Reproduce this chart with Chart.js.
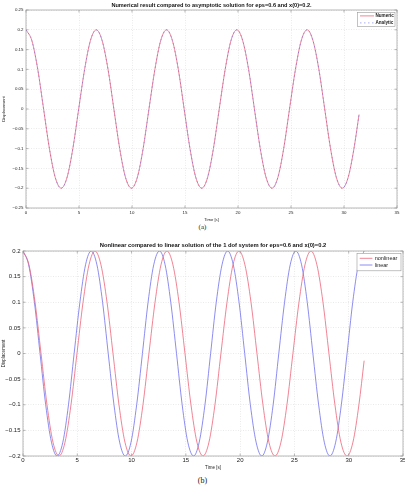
<!DOCTYPE html>
<html>
<head>
<meta charset="utf-8">
<title>Displacement</title>
<script src="https://cdn.jsdelivr.net/npm/chart.js@4.4.1/dist/chart.umd.min.js"></script>
<style>
  html, body { margin: 0; padding: 0; background: #fff; }
  body { width: 405px; height: 486px; position: relative; overflow: hidden; }
  canvas { position: absolute; left: 0; }
  #chart-a { top: 0; }
  #chart-b { top: 238px; }
  .caption { position: absolute; left: 0; width: 405px; text-align: center; line-height: 1;
             font-family: "Liberation Serif", "Times New Roman", serif; color: #222; }
</style>
</head>
<body>
<canvas id="chart-a" width="405" height="223"></canvas>
<div class="caption" style="top:224px;font-size:7px">(a)</div>
<canvas id="chart-b" width="405" height="233"></canvas>
<div class="caption" style="top:477px;font-size:8px">(b)</div>
<script>
// time samples [s] of the nonlinear response (same curve in both plots)
const timeNonlinear = [
    0, 0.55, 1.11, 1.66, 2.21, 2.76, 3.32, 3.87, 4.42, 4.97, 5.53, 6.08,
    6.63, 7.18, 7.74, 8.29, 8.84, 9.39, 9.95, 10.50, 11.05, 11.60, 12.16, 12.71,
    13.26, 13.81, 14.37, 14.92, 15.47, 16.02, 16.58, 17.13, 17.68, 18.23, 18.79, 19.34,
    19.89, 20.44, 21.00, 21.55, 22.10, 22.65, 23.21, 23.76, 24.31, 24.86, 25.42, 25.97,
    26.52, 27.07, 27.63, 28.18, 28.73, 29.28, 29.84, 30.39, 30.94, 31.42
];
const numeric = [
    0.2, 0.173, 0.1, 0, -0.1, -0.173, -0.2, -0.173, -0.1, 0, 0.1, 0.173,
    0.2, 0.173, 0.1, 0, -0.1, -0.173, -0.2, -0.173, -0.1, 0, 0.1, 0.173,
    0.2, 0.173, 0.1, 0, -0.1, -0.173, -0.2, -0.173, -0.1, 0, 0.1, 0.173,
    0.2, 0.173, 0.1, 0, -0.1, -0.173, -0.2, -0.173, -0.1, 0, 0.1, 0.173,
    0.2, 0.173, 0.1, 0, -0.1, -0.173, -0.2, -0.173, -0.1, -0.014
];
const analytic = [
    0.2, 0.173, 0.1, 0, -0.1, -0.173, -0.2, -0.173, -0.1, 0, 0.1, 0.173,
    0.2, 0.173, 0.1, 0, -0.1, -0.173, -0.2, -0.173, -0.1, 0, 0.1, 0.173,
    0.2, 0.173, 0.1, 0, -0.1, -0.173, -0.2, -0.173, -0.1, 0, 0.1, 0.173,
    0.2, 0.173, 0.1, 0, -0.1, -0.173, -0.2, -0.173, -0.1, 0, 0.1, 0.173,
    0.2, 0.173, 0.1, 0, -0.1, -0.173, -0.2, -0.173, -0.1, -0.014
];
const nonlinear = [
    0.2, 0.173, 0.1, 0, -0.1, -0.173, -0.2, -0.173, -0.1, 0, 0.1, 0.173,
    0.2, 0.173, 0.1, 0, -0.1, -0.173, -0.2, -0.173, -0.1, 0, 0.1, 0.173,
    0.2, 0.173, 0.1, 0, -0.1, -0.173, -0.2, -0.173, -0.1, 0, 0.1, 0.173,
    0.2, 0.173, 0.1, 0, -0.1, -0.173, -0.2, -0.173, -0.1, 0, 0.1, 0.173,
    0.2, 0.173, 0.1, 0, -0.1, -0.173, -0.2, -0.173, -0.1, -0.014
];
// linear response, period 2*pi
const timeLinear = [
    0, 0.52, 1.05, 1.57, 2.09, 2.62, 3.14, 3.67, 4.19, 4.71, 5.24, 5.76,
    6.28, 6.81, 7.33, 7.85, 8.38, 8.90, 9.42, 9.95, 10.47, 11.00, 11.52, 12.04,
    12.57, 13.09, 13.61, 14.14, 14.66, 15.18, 15.71, 16.23, 16.76, 17.28, 17.80, 18.33,
    18.85, 19.37, 19.90, 20.42, 20.94, 21.47, 21.99, 22.51, 23.04, 23.56, 24.09, 24.61,
    25.13, 25.66, 26.18, 26.70, 27.23, 27.75, 28.27, 28.80, 29.32, 29.85, 30.37, 30.89,
    31.42
];
const linear = [
    0.2, 0.173, 0.1, 0, -0.1, -0.173, -0.2, -0.173, -0.1, 0, 0.1, 0.173,
    0.2, 0.173, 0.1, 0, -0.1, -0.173, -0.2, -0.173, -0.1, 0, 0.1, 0.173,
    0.2, 0.173, 0.1, 0, -0.1, -0.173, -0.2, -0.173, -0.1, 0, 0.1, 0.173,
    0.2, 0.173, 0.1, 0, -0.1, -0.173, -0.2, -0.173, -0.1, 0, 0.1, 0.173,
    0.2, 0.173, 0.1, 0, -0.1, -0.173, -0.2, -0.173, -0.1, 0, 0.1, 0.173,
    0.2
];
const timeTicks = [0, 35, 5];          // min, max, step
const yTicksA = [-0.25, 0.25, 0.05];
const yTicksB = [-0.2, 0.2, 0.05];

const RED = 'rgb(236, 100, 122)';
const BLUE = 'rgb(112, 112, 236)';
const FONT = "'Liberation Sans', Arial, sans-serif";

function points(xs, ys) {
    return xs.map((x, i) => ({ x: x, y: ys[i] }));
}

function tickLabel(v) {
    const r = Math.round(v * 100) / 100;
    return r < 0 ? '\u2212' + Math.abs(r) : String(r);
}

// matlab style axes box with inward ticks
const boxPlugin = {
    id: 'matlabBox',
    afterDatasetsDraw(chart, args, opts) {
        const { ctx, chartArea: a, scales } = chart;
        const len = opts.tickLength;
        ctx.save();
        ctx.strokeStyle = opts.color;
        ctx.lineWidth = opts.width;
        ctx.strokeRect(a.left, a.top, a.right - a.left, a.bottom - a.top);
        ctx.beginPath();
        scales.x.ticks.forEach(t => {
            const px = scales.x.getPixelForValue(t.value);
            ctx.moveTo(px, a.bottom); ctx.lineTo(px, a.bottom - len);
            ctx.moveTo(px, a.top); ctx.lineTo(px, a.top + len);
        });
        scales.y.ticks.forEach(t => {
            const py = scales.y.getPixelForValue(t.value);
            ctx.moveTo(a.left, py); ctx.lineTo(a.left + len, py);
            ctx.moveTo(a.right, py); ctx.lineTo(a.right - len, py);
        });
        ctx.stroke();
        ctx.restore();
    }
};

// boxed legend inside the top right corner
const legendPlugin = {
    id: 'boxLegend',
    afterDraw(chart, args, opts) {
        const { ctx, chartArea: a } = chart;
        const left = a.right - opts.right - opts.width;
        const top = a.top + opts.top;
        ctx.save();
        ctx.fillStyle = '#fff';
        ctx.fillRect(left, top, opts.width, opts.height);
        ctx.strokeStyle = '#999';
        ctx.lineWidth = 0.6;
        ctx.strokeRect(left, top, opts.width, opts.height);
        ctx.font = opts.font;
        ctx.textBaseline = 'middle';
        chart.data.datasets.forEach((ds, i) => {
            const y = top + opts.firstRow + i * opts.rowGap;
            ctx.strokeStyle = ds.borderColor;
            ctx.lineWidth = ds.borderWidth;
            ctx.setLineDash(ds.borderDash || []);
            ctx.beginPath();
            ctx.moveTo(left + opts.lineStart, y);
            ctx.lineTo(left + opts.lineEnd, y);
            ctx.stroke();
            ctx.setLineDash([]);
            ctx.fillStyle = '#222';
            ctx.fillText(ds.label, left + opts.textX, y);
        });
        ctx.restore();
    }
};

function fixWidth(w) {
    return scale => { scale.width = w; scale.paddingTop = 0; scale.paddingBottom = 0; };
}
function fixHeight(h) {
    return scale => { scale.height = h; scale.paddingLeft = 0; scale.paddingRight = 0; };
}

function buildChart(canvas, s) {
    return new Chart(canvas, {
        type: 'line',
        data: { datasets: s.datasets },
        plugins: [boxPlugin, legendPlugin],
        options: {
            responsive: false,
            animation: false,
            devicePixelRatio: 1,
            layout: { padding: s.padding },
            elements: {
                point: { radius: 0 },
                line: { tension: 0.4, cubicInterpolationMode: 'monotone', fill: false }
            },
            scales: {
                x: {
                    type: 'linear',
                    min: timeTicks[0], max: timeTicks[1],
                    ticks: { stepSize: timeTicks[2], color: '#222', padding: s.xPad,
                             font: { family: FONT, size: s.tickSize } },
                    grid: { color: '#d4d4d4', lineWidth: 0.5, drawTicks: false },
                    border: { display: false, dash: [1, 1.5] },
                    title: { display: true, text: 'Time [s]', color: '#222',
                             font: { family: FONT, size: s.labelSize },
                             padding: { top: 0, bottom: 1 } },
                    afterFit: fixHeight(15)
                },
                y: {
                    min: s.yTicks[0], max: s.yTicks[1],
                    ticks: { stepSize: s.yTicks[2], color: '#222', padding: 2.5,
                             font: { family: FONT, size: s.tickSize }, callback: tickLabel },
                    grid: { color: '#d4d4d4', lineWidth: 0.5, drawTicks: false },
                    border: { display: false, dash: [1, 1.5] },
                    title: { display: true, text: 'Displacement', color: '#222',
                             font: { family: FONT, size: s.labelSize },
                             padding: { top: 1.5, bottom: 0 } },
                    afterFit: fixWidth(s.yWidth)
                }
            },
            plugins: {
                legend: { display: false },
                tooltip: { enabled: false },
                title: {
                    display: true, text: s.title, color: '#111', fullSize: false,
                    font: { family: FONT, size: s.titleSize, weight: 'bold' },
                    padding: s.titlePad
                },
                matlabBox: { color: '#9a9a9a', width: 0.7, tickLength: 2.5 },
                boxLegend: s.legend
            }
        }
    });
}

addEventListener('DOMContentLoaded', () => {
    buildChart(document.getElementById('chart-a'), {
        title: 'Numerical result compared to asymptotic solution for eps=0.6 and x(0)=0.2.',
        titleSize: 5.6,
        titlePad: { top: 2, bottom: 1.28 },
        padding: { left: 0, right: 8, top: 0, bottom: 0 },
        yTicks: yTicksA,
        yWidth: 26,
        tickSize: 4.4,
        labelSize: 4.2,
        xPad: 2,
        legend: { width: 37.5, height: 14, right: 2, top: 2.5, firstRow: 3.4, rowGap: 7,
                  lineStart: 2.5, lineEnd: 16.5, textX: 18, font: 'bold 4.6px ' + FONT },
        datasets: [
            { label: 'Numeric', data: points(timeNonlinear, numeric),
              borderColor: RED, borderWidth: 0.8, order: 1 },
            { label: 'Analytic', data: points(timeNonlinear, analytic),
              borderColor: BLUE, borderWidth: 0.6, borderDash: [1.5, 2.5], order: 0 }
        ]
    });

    buildChart(document.getElementById('chart-b'), {
        title: 'Nonlinear compared to linear solution of the 1 dof system for eps=0.6 and x(0)=0.2',
        titleSize: 5.8,
        titlePad: { top: 3.5, bottom: 2.54 },
        padding: { left: 0, right: 2, top: 0, bottom: 0 },
        yTicks: yTicksB,
        yWidth: 23,
        tickSize: 6,
        labelSize: 4.5,
        xPad: 0.5,
        legend: { width: 44, height: 17.5, right: 2, top: 2.3, firstRow: 5, rowGap: 6.7,
                  lineStart: 2.7, lineEnd: 15.4, textX: 17.7, font: '5.5px ' + FONT },
        datasets: [
            { label: 'nonlinear', data: points(timeNonlinear, nonlinear),
              borderColor: RED, borderWidth: 0.8 },
            { label: 'linear', data: points(timeLinear, linear),
              borderColor: BLUE, borderWidth: 0.8 }
        ]
    });
});
</script>
</body>
</html>
